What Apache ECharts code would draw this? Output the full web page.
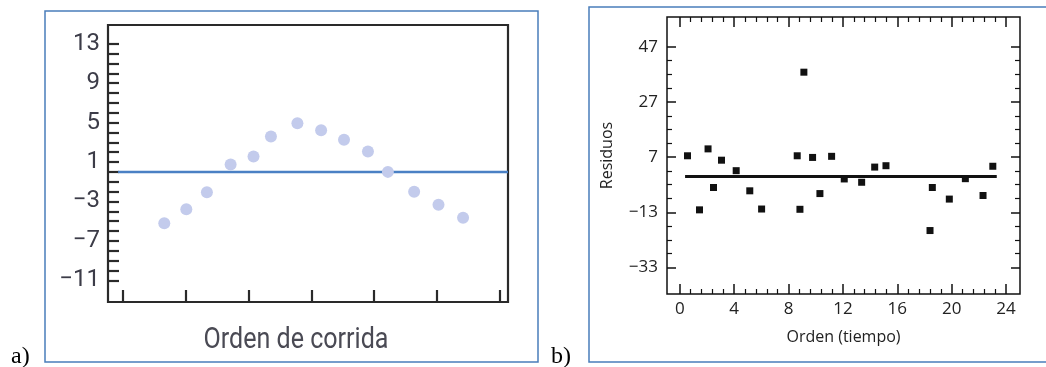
<!DOCTYPE html>
<html>
<head>
<meta charset="utf-8">
<script src="https://cdn.jsdelivr.net/npm/echarts@6/dist/echarts.min.js"></script>
<style>
  html, body { margin: 0; padding: 0; background: #fff; }
  #chart { width: 1046px; height: 367px; }
</style>
</head>
<body>
<div id="chart"></div>
<script>
// panel a) run order vs residual (x in tick units, 3 per tick)
const runX = [2.0, 3.05, 4.03, 5.16, 6.25, 7.08, 8.34, 9.47, 10.56, 11.7, 12.65, 13.9, 15.06, 16.23];
const runY = [-5.2, -3.8, -2.06, 0.75, 1.56, 3.58, 4.93, 4.22, 3.25, 2.06, 0.0, -2.02, -3.34, -4.65];
const aYLabels = [-11, -7, -3, 1, 5, 9, 13];
const aXTicks = [0, 3, 6, 9, 12, 15, 18];
const aRefLineX = [-0.2, 18.37];

// panel b) residuals vs order (time)
const ordX = [0.57, 1.45, 2.08, 2.48, 3.07, 4.15, 5.15, 6.02, 8.64, 8.84, 9.13, 9.77,
              10.31, 11.17, 12.10, 13.38, 14.34, 15.17, 18.41, 18.58, 19.83, 21.01, 22.31, 23.03];
const resY = [7.5, -12.1, 10.0, -4.0, 5.9, 2.1, -5.2, -11.8, 7.5, -11.9, 37.8, 6.9,
              -6.2, 7.3, -0.9, -2.1, 3.4, 3.9, -19.6, -4.0, -8.2, -0.8, -6.9, 3.7];
const bXLabels = [0, 4, 8, 12, 16, 20, 24];
const bYLabels = [-33, -13, 7, 27, 47];
const bRefLineX = [0.39, 23.32];

function range(a, b, step) {
  const out = [];
  for (let i = 0; a + i * step <= b + 1e-9; i++) out.push(+(a + i * step).toFixed(4));
  return out;
}
const aYTicks = range(-11, 13, 1);
const bXMinor = range(0, 24, 0.8).filter(v => Math.abs(v / 4 - Math.round(v / 4)) > 1e-6);
const bYMinor = range(-33, 47, 5).filter(v => bYLabels.indexOf(v) < 0);

const minus = v => (v < 0 ? '\u2212' + (-v) : String(v));
const narrow = 'Roboto, "Noto Sans", sans-serif';
const sans = '"Open Sans", "Noto Sans", sans-serif';

// squeeze the title to the width it has in the picture
const titleA = 'Orden de corrida';
const titleFont = '30px ' + narrow;
const ctx = document.createElement('canvas').getContext('2d');
ctx.font = titleFont;
const titleScale = 185 / ctx.measureText(titleA).width;

const chart = echarts.init(document.getElementById('chart'));

function tickAxis(grid, pos, min, max, values, len, color, width, extra) {
  return Object.assign({
    type: 'value', gridIndex: grid, position: pos, min: min, max: max,
    axisLine: { show: false, onZero: false },
    splitLine: { show: false },
    axisLabel: { show: false },
    axisTick: { show: true, inside: true, length: len, customValues: values,
                lineStyle: { color: color, width: width } }
  }, extra || {});
}

const aMin = -0.68, aMax = 18.37, aYMin = -13.2, aYMax = 14.9;
const bMin = -0.94, bMax = 25.03, bYMin = -42.6, bYMax = 57.8;

chart.setOption({
  animation: false,
  grid: [
    { left: 108, top: 25, width: 400, height: 277, show: true, borderColor: '#2a2a2a', borderWidth: 2.2, outerBoundsMode: 'none' },
    { left: 667, top: 17, width: 353, height: 277, show: true, borderColor: '#111', borderWidth: 1.5, outerBoundsMode: 'none' }
  ],
  xAxis: [
    tickAxis(0, 'bottom', aMin, aMax, aXTicks, 12, '#2a2a2a', 2.2),
    tickAxis(1, 'bottom', bMin, bMax, bXLabels, 10, '#111', 1.5, {
      axisLabel: { show: true, customValues: bXLabels, margin: 7, fontSize: 17, fontFamily: sans, color: '#222' },
      name: 'Orden (tiempo)', nameLocation: 'middle', nameGap: 35,
      nameTextStyle: { fontSize: 16, fontFamily: sans, color: '#222' }
    }),
    tickAxis(1, 'bottom', bMin, bMax, bXMinor, 5, '#111', 1.2),
    tickAxis(1, 'top', bMin, bMax, bXLabels, 10, '#111', 1.5),
    tickAxis(1, 'top', bMin, bMax, bXMinor, 5, '#111', 1.2)
  ],
  yAxis: [
    tickAxis(0, 'left', aYMin, aYMax, aYTicks, 11, '#2a2a2a', 2.2, {
      axisLabel: { show: true, customValues: aYLabels, formatter: minus, margin: 8,
                   fontSize: 24, fontFamily: narrow, color: '#3c3c48' }
    }),
    tickAxis(1, 'left', bYMin, bYMax, bYLabels, 9, '#111', 1.5, {
      axisLabel: { show: true, customValues: bYLabels, formatter: minus, margin: 9,
                   fontSize: 17, fontFamily: sans, color: '#222' },
      name: 'Residuos', nameLocation: 'middle', nameGap: 52,
      nameTextStyle: { fontSize: 16, fontFamily: sans, color: '#222' }
    }),
    tickAxis(1, 'left', bYMin, bYMax, bYMinor, 5, '#111', 1.2),
    tickAxis(1, 'right', bYMin, bYMax, bYLabels, 9, '#111', 1.5),
    tickAxis(1, 'right', bYMin, bYMax, bYMinor, 5, '#111', 1.2)
  ],
  series: [
    {
      type: 'line', xAxisIndex: 0, yAxisIndex: 0, symbol: 'none', silent: true,
      data: aRefLineX.map(x => [x, 0]),
      lineStyle: { color: '#4a80c4', width: 2.5 }, z: 1
    },
    {
      type: 'scatter', xAxisIndex: 0, yAxisIndex: 0, symbolSize: 12,
      data: runX.map((x, i) => [x, runY[i]]),
      itemStyle: { color: '#c3cbec', opacity: 1 }, z: 2
    },
    {
      type: 'line', xAxisIndex: 1, yAxisIndex: 1, symbol: 'none', silent: true,
      data: bRefLineX.map(x => [x, 0]),
      lineStyle: { color: '#111', width: 3 }, z: 1
    },
    {
      type: 'scatter', xAxisIndex: 1, yAxisIndex: 1, symbol: 'rect', symbolSize: 7,
      data: ordX.map((x, i) => [x, resY[i]]),
      itemStyle: { color: '#111', opacity: 1 }, z: 2
    }
  ],
  graphic: [
    { type: 'rect', shape: { x: 45, y: 11, width: 493, height: 351 }, silent: true,
      style: { fill: 'none', stroke: '#4a7ebb', lineWidth: 1.5 } },
    { type: 'rect', shape: { x: 589, y: 7, width: 470, height: 355 }, silent: true,
      style: { fill: 'none', stroke: '#4a7ebb', lineWidth: 1.5 } },
    { type: 'text', x: 296, y: 340, scaleX: titleScale, silent: true,
      style: { text: titleA, fill: '#4a4a54', font: titleFont,
               align: 'center', verticalAlign: 'middle' } },
    { type: 'text', x: 11, y: 369, silent: true,
      style: { text: 'a)', fill: '#000', font: '24px "Liberation Serif", "DejaVu Serif", serif',
               align: 'left', verticalAlign: 'bottom' } },
    { type: 'text', x: 551, y: 369, silent: true,
      style: { text: 'b)', fill: '#000', font: '24px "Liberation Serif", "DejaVu Serif", serif',
               align: 'left', verticalAlign: 'bottom' } }
  ]
});
</script>
</body>
</html>
